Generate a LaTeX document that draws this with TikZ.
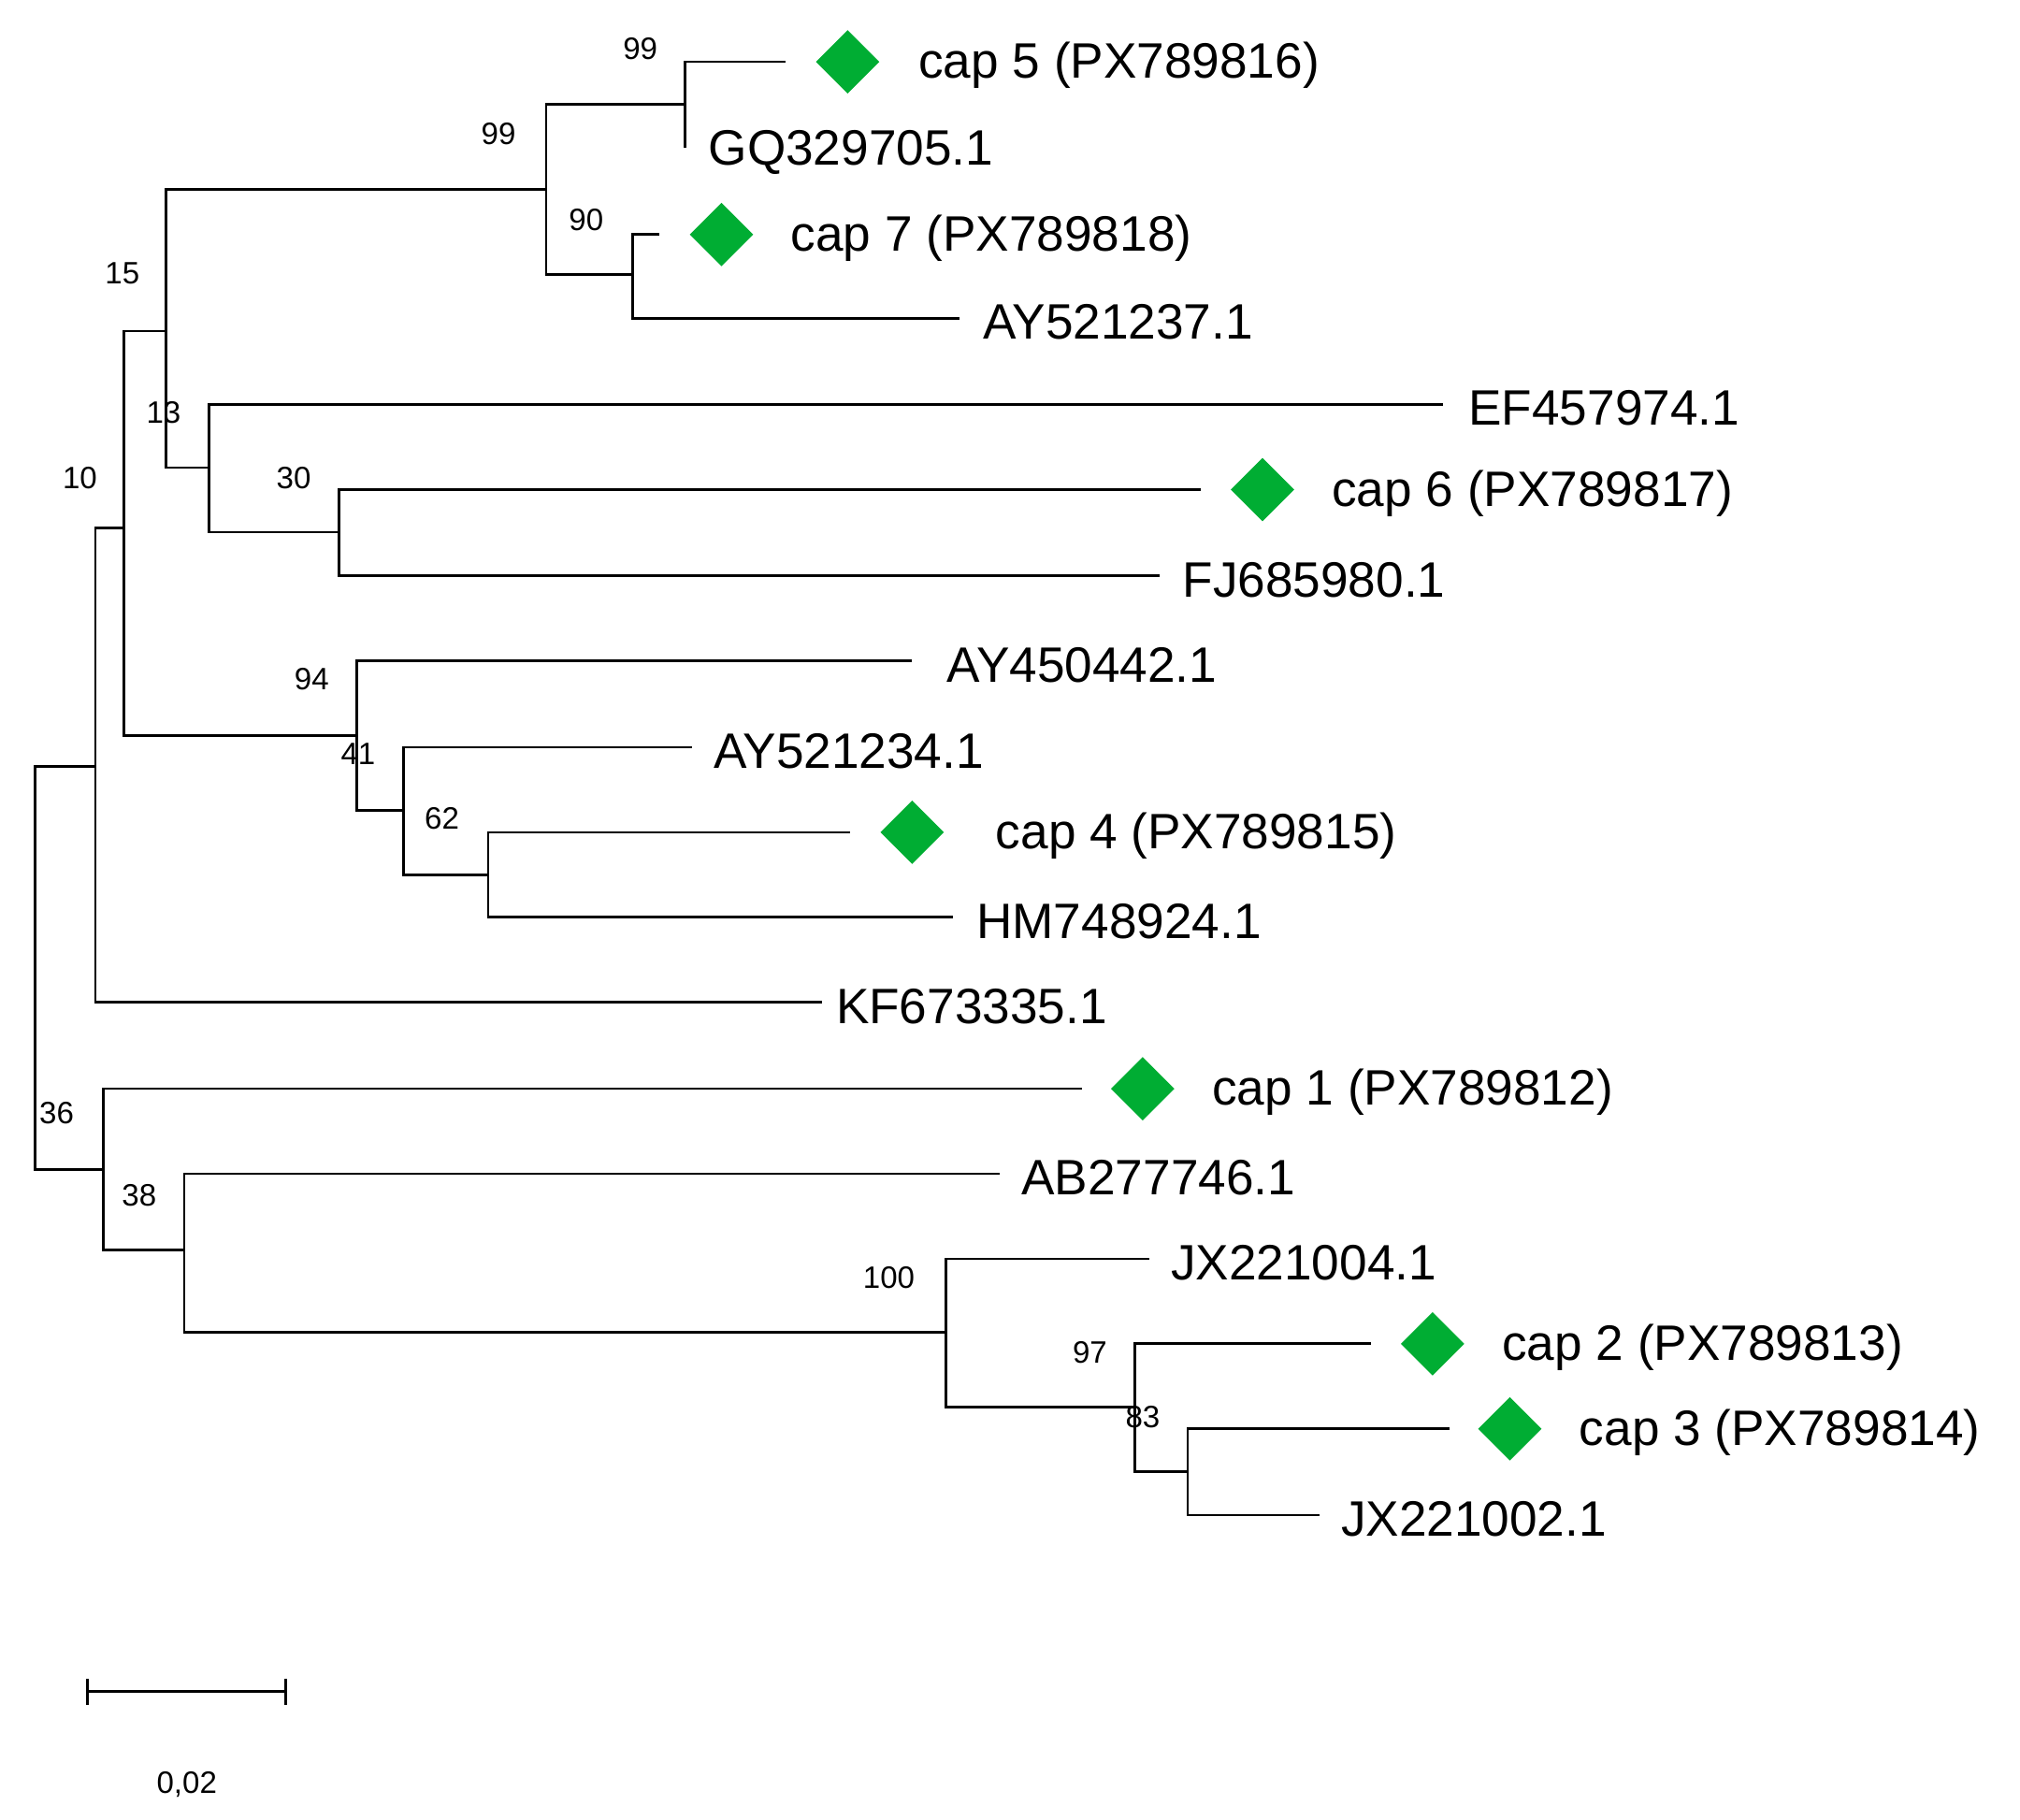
\documentclass[tikz,border=0pt]{standalone}
\usepackage{fontspec}
\setmainfont{Liberation Sans}
\usetikzlibrary{shapes.geometric}
\begin{document}
\begin{tikzpicture}[x=0.5pt,y=-0.5pt,line width=1pt,
  br/.style={draw,line width=1pt},
  leaf/.style={anchor=west,inner sep=0pt,yshift=-1.5pt,font=\fontsize{19.3}{21}\selectfont},
  boot/.style={inner sep=0pt,font=\fontsize{12}{14}\selectfont},
  gem/.style={diamond,fill=green!60!black!80!cyan,draw=none,minimum width=25pt,minimum height=25pt,inner sep=0pt}]
\useasboundingbox (0,0) rectangle (1568,1412);
% inner nodes
\coordinate (root) at (27,751);
\coordinate (a) at (74,595);
\coordinate (b) at (80,908);
\coordinate (c) at (96,410);
\coordinate (d) at (129,257);
\coordinate (e) at (277,571);
\coordinate (f) at (424,147);
\coordinate (g) at (162,363);
\coordinate (h) at (532,81);
\coordinate (i) at (491,213);
\coordinate (j) at (263,413);
\coordinate (k) at (313,629);
\coordinate (l) at (379,679);
\coordinate (m) at (143,970);
\coordinate (n) at (734,1034);
\coordinate (o) at (881,1092);
\coordinate (p) at (922,1142);
% leaf ends
\coordinate (t1) at (610,48);
\coordinate (t2) at (532,115);
\coordinate (t3) at (512,182);
\coordinate (t4) at (745,247);
\coordinate (t5) at (1120,314);
\coordinate (t6) at (932,380);
\coordinate (t7) at (900,447);
\coordinate (t8) at (708,513);
\coordinate (t9) at (537,580);
\coordinate (t10) at (660,646);
\coordinate (t11) at (740,712);
\coordinate (t12) at (638,778);
\coordinate (t13) at (840,845);
\coordinate (t14) at (776,911);
\coordinate (t15) at (892,977);
\coordinate (t16) at (1064,1043);
\coordinate (t17) at (1125,1109);
\coordinate (t18) at (1024,1176);
% branches
\draw[br] (root) |- (a); \draw[br] (root) |- (b);
\draw[br] (a) |- (c); \draw[br] (a) |- (t12);
\draw[br] (c) |- (d); \draw[br] (c) |- (e);
\draw[br] (d) |- (f); \draw[br] (d) |- (g);
\draw[br] (f) |- (h); \draw[br] (f) |- (i);
\draw[br] (h) |- (t1); \draw[br] (h) |- (t2);
\draw[br] (i) |- (t3); \draw[br] (i) |- (t4);
\draw[br] (g) |- (t5); \draw[br] (g) |- (j);
\draw[br] (j) |- (t6); \draw[br] (j) |- (t7);
\draw[br] (e) |- (t8); \draw[br] (e) |- (k);
\draw[br] (k) |- (t9); \draw[br] (k) |- (l);
\draw[br] (l) |- (t10); \draw[br] (l) |- (t11);
\draw[br] (b) |- (t13); \draw[br] (b) |- (m);
\draw[br] (m) |- (t14); \draw[br] (m) |- (n);
\draw[br] (n) |- (t15); \draw[br] (n) |- (o);
\draw[br] (o) |- (t16); \draw[br] (o) |- (p);
\draw[br] (p) |- (t17); \draw[br] (p) |- (t18);
% diamonds and labels
\node[gem] (d1) at (658,48) {}; \node[leaf] (l1) at (712,48) {cap 5 (PX789816)};
\node[leaf] (l2) at (549,115) {GQ329705.1};
\node[gem] (d3) at (560,182) {}; \node[leaf] (l3) at (613,182) {cap 7 (PX789818)};
\node[leaf] (l4) at (762,247) {AY521237.1};
\node[leaf] (l5) at (1139,314) {EF457974.1};
\node[gem] (d6) at (980,380) {}; \node[leaf] (l6) at (1033,380) {cap 6 (PX789817)};
\node[leaf] (l7) at (917,447) {FJ685980.1};
\node[leaf] (l8) at (734,513) {AY450442.1};
\node[leaf] (l9) at (553,580) {AY521234.1};
\node[gem] (d10) at (708,646) {}; \node[leaf] (l10) at (772,646) {cap 4 (PX789815)};
\node[leaf] (l11) at (757,712) {HM748924.1};
\node[leaf] (l12) at (648,778) {KF673335.1};
\node[gem] (d13) at (887,845) {}; \node[leaf] (l13) at (940,845) {cap 1 (PX789812)};
\node[leaf] (l14) at (792,911) {AB277746.1};
\node[leaf] (l15) at (908,977) {JX221004.1};
\node[gem] (d16) at (1112,1043) {}; \node[leaf] (l16) at (1165,1043) {cap 2 (PX789813)};
\node[gem] (d17) at (1172,1109) {}; \node[leaf] (l17) at (1225,1109) {cap 3 (PX789814)};
\node[leaf] (l18) at (1040,1176) {JX221002.1};
% bootstrap
\node[boot] (b1) at (497,38) {99};
\node[boot] (b2) at (387,104) {99};
\node[boot] (b3) at (455,171) {90};
\node[boot] (b4) at (95,212) {15};
\node[boot] (b5) at (127,320) {13};
\node[boot] (b6) at (62,371) {10};
\node[boot] (b7) at (228,371) {30};
\node[boot] (b8) at (242,527) {94};
\node[boot] (b9) at (278,585) {41};
\node[boot] (b10) at (343,635) {62};
\node[boot] (b11) at (44,864) {36};
\node[boot] (b12) at (108,928) {38};
\node[boot] (b13) at (690,992) {100};
\node[boot] (b14) at (846,1050) {97};
\node[boot] (b15) at (887,1100) {83};
% scale bar
\coordinate (s1) at (68,1313); \coordinate (s2) at (222,1313);
\draw[br] (s1) -- (s2);
\draw[br] ([yshift=-5pt]s1) -- ([yshift=5pt]s1);
\draw[br] ([yshift=-5pt]s2) -- ([yshift=5pt]s2);
\node[boot] (sc) at (145,1385) {0,02};
\end{tikzpicture}
\end{document}
